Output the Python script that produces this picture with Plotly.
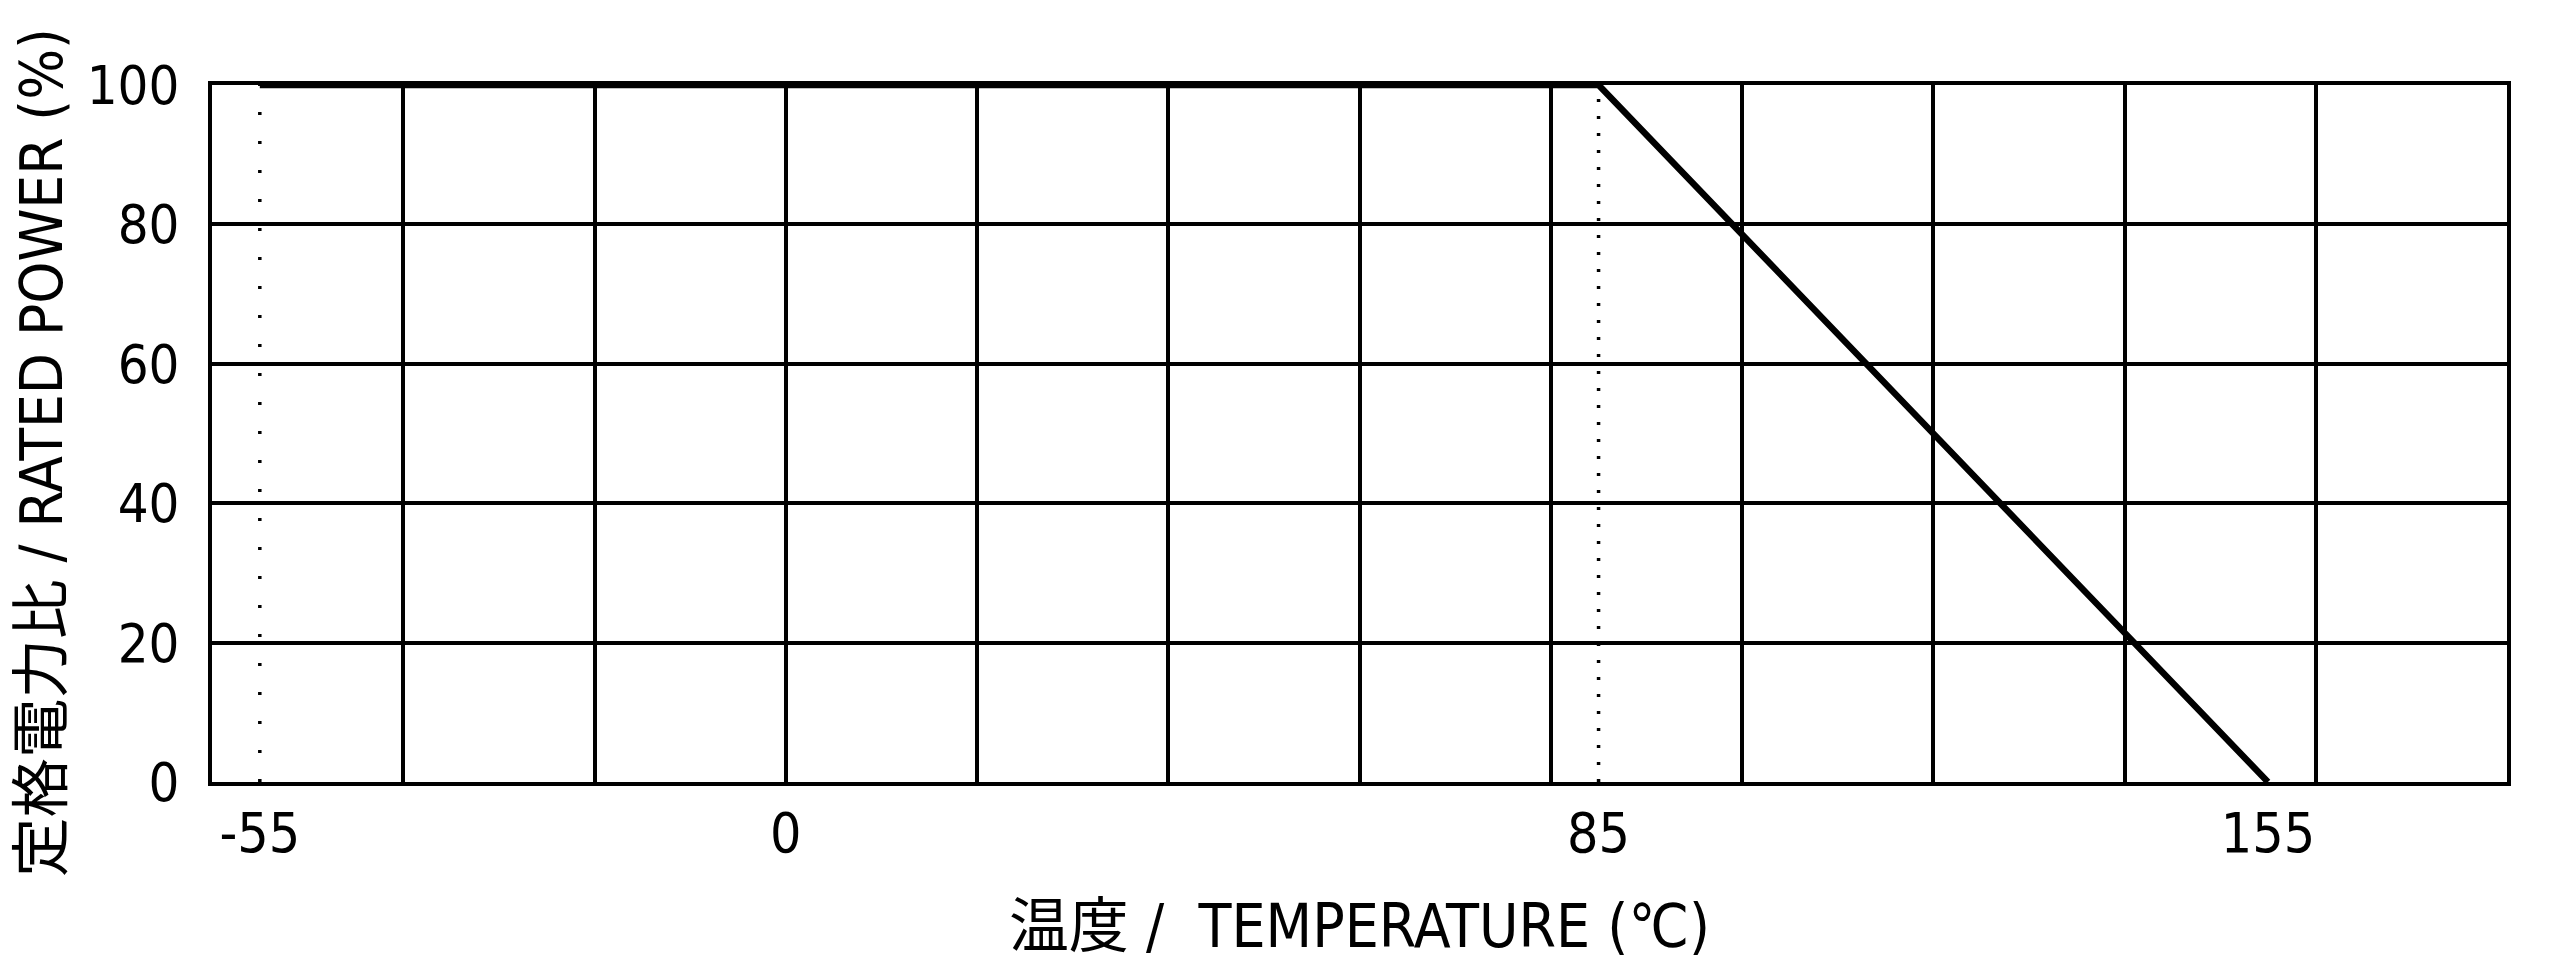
import plotly.graph_objects as go

# Data
temps = [-55, 85, 155]
power = [100, 100, 0]
x_tick_vals = [-55, 0, 85, 155]
x_tick_text = ["-55", "0", "85", "155"]
x_grid_vals = [-40, -20, 0, 20, 40, 60, 80, 100, 120, 140, 160]
y_tick_vals = [0, 20, 40, 60, 80, 100]
marker_temps = [-55, 85]

FONT = "DejaVu Sans Condensed, DejaVu Sans, Noto Sans CJK JP"

fig = go.Figure()

# dotted reference lines
dash_styles = {-55: "3px,26px", 85: "3px,14px"}
for t in marker_temps:
    fig.add_trace(go.Scatter(
        x=[t, t], y=[0, 100], mode="lines",
        line=dict(color="black", width=3.5, dash=dash_styles[t]),
        hoverinfo="skip", showlegend=False,
    ))

fig.add_trace(go.Scatter(
    x=temps, y=power, mode="lines",
    line=dict(color="black", width=6.5),
    showlegend=False,
))

# page body has an 8px margin: compensate so the plot lands where the reference has it
fig.update_layout(
    width=2552, height=957,
    margin=dict(l=204, r=53, t=77, b=183),
    paper_bgcolor="white", plot_bgcolor="white",
    font=dict(family=FONT, color="black", size=54),
)

fig.update_xaxes(
    range=[-60, 180],
    tickvals=x_tick_vals, ticktext=x_tick_text,
    showgrid=False, zeroline=False,
    ticks="", ticklabelstandoff=0,
    tickfont=dict(size=55),
    showline=True, linecolor="black", linewidth=3.5, mirror=True,
    minor=dict(tickvals=x_grid_vals, showgrid=True, gridcolor="black", gridwidth=3.5, ticks=""),
    title=dict(text="温度 /  TEMPERATURE (℃)", font=dict(size=60), standoff=42),
)
fig.update_yaxes(
    range=[0, 100],
    tickvals=y_tick_vals,
    showgrid=True, gridcolor="black", gridwidth=3.5, zeroline=False,
    ticks="", ticklabelstandoff=18,
    tickfont=dict(size=54),
    showline=True, linecolor="black", linewidth=3.5, mirror=True,
)

# y-axis title, placed where the reference has it (slightly below the plot's centre)
fig.add_annotation(
    text="定格電力比 / RATED POWER (%)",
    xref="paper", yref="paper", x=-0.0745, y=0.472,
    xanchor="center", yanchor="middle", textangle=-90,
    showarrow=False, font=dict(size=59.5, family=FONT, color="black"),
)

fig.write_html("out.html")
